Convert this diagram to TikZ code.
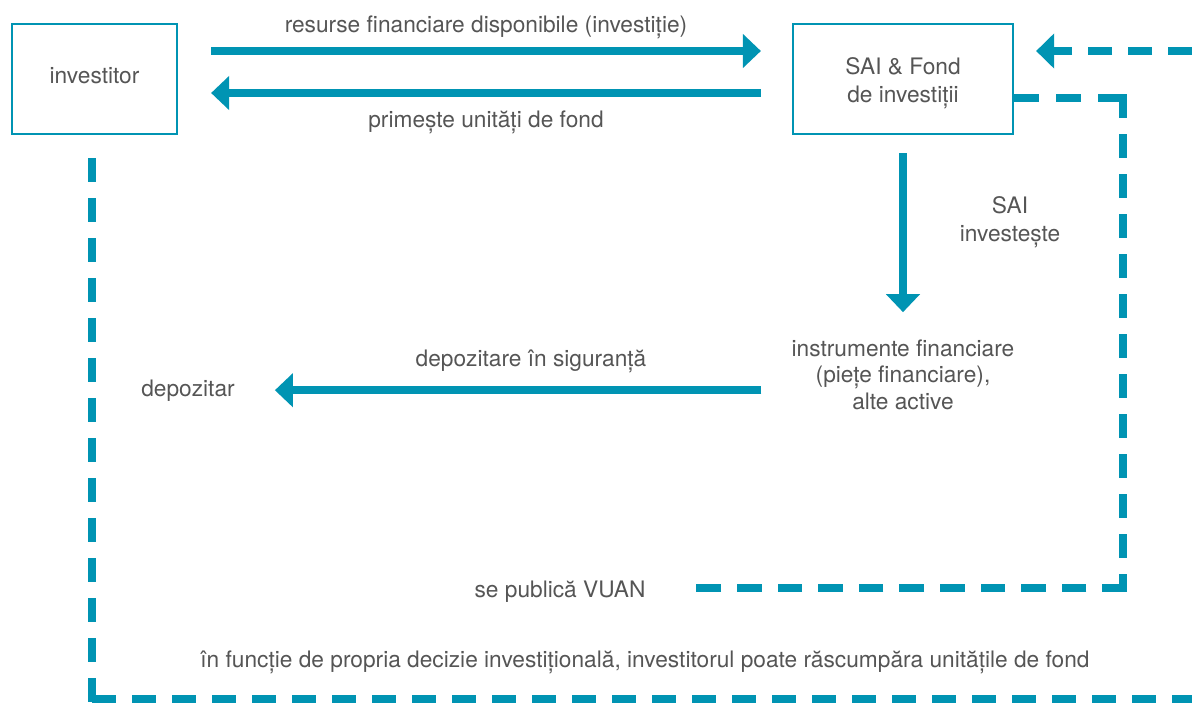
\documentclass[tikz,border=0pt]{standalone}
\usepackage{fontspec}
\setmainfont{TeX Gyre Heros}
\usetikzlibrary{arrows.meta}
\definecolor{tealc}{RGB}{0,148,179}
\definecolor{txtc}{RGB}{85,85,85}
\begin{document}
\begin{tikzpicture}[x=1pt,y=-1pt,
  every node/.style={text=txtc, font=\fontsize{22.7}{27.5}\selectfont, inner sep=0pt},
  box/.style={draw=tealc, line width=2.2pt, minimum height=110pt},
  flow/.style={draw=tealc, line width=8pt, -{Triangle[width=33pt,length=18pt]}},
  dashline/.style={draw=tealc, line width=8pt, dash pattern=on 24pt off 16pt},
]
\useasboundingbox (0,0) rectangle (1192,704);

% boxes and texts
\node[box, minimum width=165pt, text height=16pt, text depth=8pt] (inv) at (94.5,79) {investitor};
\node[box, minimum width=220pt, align=center, text height=51pt, text depth=5pt] (sai) at (903,79) {SAI \& Fond\\de investiții};
\node[align=center, anchor=base, font=\fontsize{22.7}{26.5}\selectfont] (instr) at (903,409) {instrumente financiare\\(piețe financiare),\\alte active};
\node[anchor=base] (dep) at (188,396) {depozitar};
\node[anchor=base] (vuan) at (560,597) {se publică VUAN};
\node[anchor=base] (redeem) at (645,667) {în funcție de propria decizie investițională, investitorul poate răscumpăra unitățile de fond};
\node[anchor=base] (lbl1) at (486,32) {resurse financiare disponibile (investiție)};
\node[anchor=base] (lbl2) at (486,127) {primește unități de fond};
\node[anchor=base, align=center] (lbl3) at (1010,241) {SAI\\investește};
\node[anchor=base] (lbl4) at (531,366) {depozitare în siguranță};

% solid flows
\draw[flow] ([xshift=33pt,yshift=28pt]inv.east) -- ([xshift=-31pt,yshift=28pt]sai.west);
\draw[flow] ([xshift=-31pt,yshift=-14pt]sai.west) -- ([xshift=33pt,yshift=-14pt]inv.east);
\draw[flow] ([yshift=-18pt]sai.south) -- ([yshift=27pt]instr.north);
\coordinate (d0) at (instr.west |- dep.east);
\draw[flow] ([xshift=-30pt]d0) -- ([xshift=40pt]dep.east);

% dashed lines
\coordinate (rtop) at (1192,51);
\draw[dashline, -{Triangle[width=34pt,length=18pt]}] (rtop) -- ([xshift=22pt,yshift=28pt]sai.east);
\coordinate (k1) at (1123,98);
\coordinate (k2) at (1123,588);
\coordinate (c2) at (696,588);
\draw[dashline, dash pattern=on 25pt off 17pt] ([yshift=-19pt]sai.east) -- ([xshift=4pt]k1);
\draw[dashline] ([yshift=4pt]k1) -- ([yshift=-4pt]k2);
\draw[dashline, dash pattern=on 24.6pt off 16pt] ([xshift=4pt]k2) -- (c2);
\coordinate (k3) at (92,699);
\coordinate (c3) at (1192,699);
\draw[dashline] ([xshift=-2.5pt,yshift=-23pt]inv.south) -- ([yshift=-4pt]k3);
\draw[dashline] (k3) -- (c3);
\end{tikzpicture}
\end{document}
